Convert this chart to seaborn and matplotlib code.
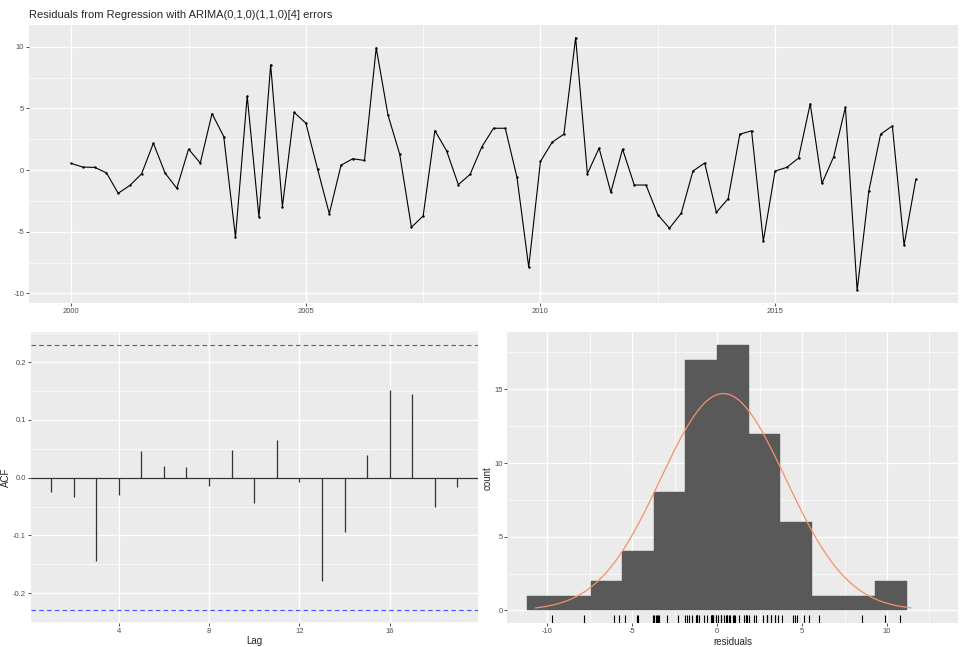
import numpy as np
import pandas as pd
import matplotlib
matplotlib.use("Agg")
import matplotlib.pyplot as plt
import seaborn as sns
from matplotlib.ticker import MultipleLocator, FixedLocator

# quarterly residuals, 2000 Q1 .. 2018 Q1
residuals = [0.54, 0.24, 0.22, -0.22, -1.88, -1.24, -0.30, 2.18, -0.24, -1.48,
             1.70, 0.57, 4.58, 2.72, -5.44, 6.00, -3.80, 8.54, -2.96, 4.68,
             3.80, 0.08, -3.53, 0.40, 0.92, 0.78, 9.91, 4.47, 1.29, -4.63,
             -3.72, 3.20, 1.56, -1.18, -0.35, 1.88, 3.39, 3.39, -0.59, -7.86,
             0.70, 2.26, 2.91, 10.74, -0.30, 1.78, -1.80, 1.70, -1.21, -1.21,
             -3.61, -4.71, -3.50, -0.08, 0.57, -3.42, -2.32, 2.91, 3.18, -5.76,
             -0.08, 0.22, 0.97, 5.38, -1.08, 1.08, 5.09, -9.75, -1.67, 2.91,
             3.58, -6.08, -0.75]
start_year = 2000
lags = list(range(1, 20))
acf_values = [-0.024, -0.033, -0.145, -0.030, 0.046, 0.021, 0.018, -0.014, 0.048,
              -0.044, 0.066, -0.007, -0.179, -0.094, 0.040, 0.152, 0.145, -0.050, -0.016]
title = "Residuals from Regression with ARIMA(0,1,0)(1,1,0)[4] errors"

df = pd.DataFrame({"time": start_year + np.arange(len(residuals)) / 4,
                   "resid": residuals})
n = len(residuals)
ci = 1.96 / np.sqrt(n)

sns.set_theme(style="darkgrid", rc={
    "axes.facecolor": "#EBEBEB",
    "grid.color": "white",
    "axes.edgecolor": "#EBEBEB",
    "xtick.color": "#333333",
    "ytick.color": "#333333",
    "xtick.labelcolor": "#4D4D4D",
    "ytick.labelcolor": "#4D4D4D",
    "xtick.labelsize": 5.5,
    "ytick.labelsize": 5.5,
    "axes.labelsize": 7,
    "xtick.bottom": True,
    "ytick.left": True,
    "xtick.major.size": 2,
    "ytick.major.size": 2,
    "xtick.major.width": 0.6,
    "ytick.major.width": 0.6,
    "xtick.major.pad": 1.5,
    "ytick.major.pad": 1.5,
    "axes.unicode_minus": False,
})
plt.rcParams["font.family"] = ["Liberation Sans", "DejaVu Sans"]

fig = plt.figure(figsize=(9.74, 6.47), dpi=100)
ax_ts = fig.add_axes([0.0298, 0.5317, 0.9538, 0.4297])
ax_acf = fig.add_axes([0.0315, 0.0376, 0.4590, 0.4488])
ax_hist = fig.add_axes([0.5209, 0.0366, 0.4630, 0.4498])


def gg_grid(ax, xmaj, xmin, ymaj, ymin):
    ax.xaxis.set_major_locator(xmaj)
    ax.yaxis.set_major_locator(ymaj)
    if xmin is not None:
        ax.xaxis.set_minor_locator(xmin)
    if ymin is not None:
        ax.yaxis.set_minor_locator(ymin)
    ax.grid(which="major", color="white", linewidth=1.0)
    ax.grid(which="minor", color="white", linewidth=0.5)
    ax.tick_params(which="minor", length=0)
    for s in ax.spines.values():
        s.set_visible(False)
    ax.set_axisbelow(True)


# A. residual time series
sns.lineplot(data=df, x="time", y="resid", ax=ax_ts, color="black", linewidth=0.8)
sns.scatterplot(data=df, x="time", y="resid", ax=ax_ts, color="black", s=3,
                linewidth=0)
ax_ts.set_xlim(1999.1, 2018.9)
ax_ts.set_ylim(-10.77, 11.76)
gg_grid(ax_ts, MultipleLocator(5), MultipleLocator(2.5),
        MultipleLocator(5), MultipleLocator(2.5))
ax_ts.set_xlabel("")
ax_ts.set_ylabel("")
ax_ts.set_title(title, loc="left", fontsize=8, pad=5)

# B. ACF
ax_acf.vlines(lags, 0, acf_values, color="#333333", linewidth=0.9)
ax_acf.axhline(0, color="#333333", linewidth=0.9)
for c in (ci, -ci):
    ax_acf.axhline(c, color="#3F4FFF", linestyle=(0, (4, 3)), linewidth=0.8)
ax_acf.set_xlim(0.1, 19.9)
ax_acf.set_ylim(-0.251, 0.2516)
gg_grid(ax_acf, FixedLocator([4, 8, 12, 16]), None,
        MultipleLocator(0.1), MultipleLocator(0.05))
ax_acf.set_xlabel("Lag", labelpad=1)
ax_acf.set_ylabel("ACF", labelpad=1)

# C. histogram + normal curve + rug
binwidth = 1.862
sns.histplot(x=residuals, ax=ax_hist, binwidth=binwidth,
             binrange=(-6 * binwidth, 6 * binwidth), color="#595959",
             edgecolor="#595959", linewidth=0.3, alpha=1)
mu = np.mean(residuals)
sd = np.std(residuals, ddof=1)
xg = np.linspace(mu - 3 * sd, mu + 3 * sd, 200)
dens = np.exp(-0.5 * ((xg - mu) / sd) ** 2) / (sd * np.sqrt(2 * np.pi)) * n * binwidth
sns.lineplot(x=xg, y=dens, ax=ax_hist, color="#F4916B", linewidth=0.9)
sns.rugplot(x=residuals, ax=ax_hist, height=0.03, color="black", linewidth=0.8)
ax_hist.set_xlim(-12.35, 14.2)
ax_hist.set_ylim(-0.88, 18.87)
gg_grid(ax_hist, MultipleLocator(5), MultipleLocator(2.5),
        MultipleLocator(5), MultipleLocator(2.5))
ax_hist.set_xlabel("residuals", labelpad=1)
ax_hist.set_ylabel("count", labelpad=1)

fig.savefig("out.png", dpi=100)
